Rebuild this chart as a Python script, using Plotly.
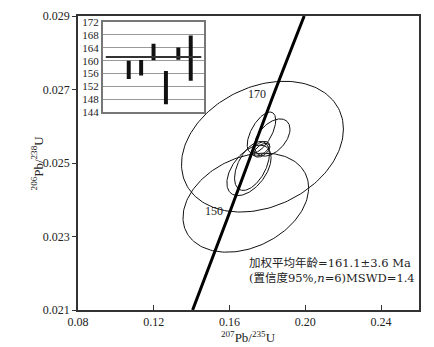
import numpy as np
import plotly.graph_objects as go

# Concordia curve points (207Pb/235U, 206Pb/238U)
concordia_x = [0.1405, 0.1592, 0.1707, 0.1822, 0.1994]
concordia_y = [0.0210, 0.02354, 0.02513, 0.02672, 0.0290]

# Age marks on the concordia (Ma)
age_labels = ["170", "150"]
age_label_x = [0.1747, 0.1516]
age_label_y = [0.02687, 0.02369]

# Error ellipses: centre, half-width in x, half-height in y, correlation
ell_cx = [0.17737, 0.16858, 0.17684, 0.18253, 0.17632, 0.17711, 0.17026, 0.17184]
ell_cy = [0.025445, 0.02392, 0.025827, 0.025693, 0.025387, 0.025347, 0.0248, 0.02492]
ell_sx = [0.04274, 0.03316, 0.00753, 0.00937, 0.00474, 0.0042, 0.01168, 0.00921]
ell_sy = [0.001779, 0.001347, 0.00056, 0.000507, 0.0002, 0.000187, 0.000688, 0.000667]
ell_rho = [0.27, 0.30, 0.60, 0.45, 0.50, 0.50, 0.50, 0.50]

# Inset: weighted-mean age bars (Ma)
bar_pos = [1, 2, 3, 4, 5, 6]
bar_lo = [154.3, 155.4, 160.1, 146.5, 160.3, 153.8]
bar_hi = [160.0, 160.2, 165.2, 156.8, 164.1, 167.8]
mean_age = 161.1

x_ticks = [0.08, 0.12, 0.16, 0.20, 0.24]
y_ticks = [0.021, 0.023, 0.025, 0.027, 0.029]
inset_ticks = [144, 148, 152, 156, 160, 164, 168, 172]

SERIF = "Liberation Serif, Times New Roman, Noto Sans CJK SC, serif"
WIDE = "DejaVu Serif, Noto Sans CJK SC, serif"

fig = go.Figure()

t = np.linspace(0, 2 * np.pi, 181)
for cx, cy, sx, sy, r in zip(ell_cx, ell_cy, ell_sx, ell_sy, ell_rho):
    ex = cx + sx * np.cos(t)
    ey = cy + sy * (r * np.cos(t) + np.sqrt(1 - r * r) * np.sin(t))
    fig.add_trace(go.Scatter(x=ex, y=ey, mode="lines",
                             line=dict(color="#111", width=1),
                             showlegend=False, hoverinfo="skip"))

fig.add_trace(go.Scatter(x=concordia_x, y=concordia_y, mode="lines",
                         line=dict(color="#000", width=3, shape="spline"),
                         showlegend=False, hoverinfo="skip"))

for txt, ax, ay in zip(age_labels, age_label_x, age_label_y):
    fig.add_annotation(x=ax, y=ay, text=txt, showarrow=False,
                       font=dict(family=SERIF, size=12, color="#222"))

# inset bars
fig.add_trace(go.Bar(x=bar_pos, y=[h - l for h, l in zip(bar_hi, bar_lo)],
                     base=bar_lo, width=0.32, marker_color="#111",
                     marker_line_width=0, showlegend=False,
                     xaxis="x2", yaxis="y2", hoverinfo="skip"))
fig.add_trace(go.Scatter(x=[-0.85, 6.85], y=[mean_age, mean_age], mode="lines",
                         line=dict(color="#333", width=2), showlegend=False,
                         xaxis="x2", yaxis="y2", hoverinfo="skip"))

fig.add_annotation(xref="paper", yref="paper", x=0.495, y=0.135,
                   xanchor="left", yanchor="middle", align="left",
                   text="加权平均年龄=161.1±3.6 Ma<br>(置信度95%,<i>n</i>=6)MSWD=1.4",
                   showarrow=False, font=dict(family=WIDE, size=11.5, color="#222"))

fig.add_annotation(xref="paper", yref="paper", x=0.5, y=-0.093,
                   text="<sup>207</sup>Pb/<sup>235</sup>U", showarrow=False,
                   xanchor="center", yanchor="middle",
                   font=dict(family=SERIF, size=13, color="#222"))
fig.add_annotation(xref="paper", yref="paper", x=-0.119, y=0.5,
                   text="<sup>206</sup>Pb/<sup>238</sup>U", showarrow=False,
                   xanchor="center", yanchor="middle", textangle=-90,
                   font=dict(family=SERIF, size=13, color="#222"))

# page body keeps an 8px margin, so the figure is shifted by that amount
fig.update_layout(
    width=426, height=339,
    margin=dict(l=70, r=15, t=2, b=37),
    plot_bgcolor="white", paper_bgcolor="white",
    font=dict(family=SERIF, size=12, color="#222"),
    xaxis=dict(range=[0.08, 0.26], tickvals=x_ticks,
               ticktext=["0.08", "0.12", "0.16", "0.20", "0.24"],
               ticks="inside", ticklen=5, tickcolor="#333",
               showgrid=False, zeroline=False, showline=True, mirror=True,
               linecolor="#333", linewidth=1.5),
    yaxis=dict(range=[0.021, 0.029], tickvals=y_ticks,
               ticktext=["0.021", "0.023", "0.025", "0.027", "0.029"],
               ticks="outside", ticklen=4, tickcolor="#333",
               showgrid=False, zeroline=False, showline=True, mirror=True,
               linecolor="#333", linewidth=1.5),
    xaxis2=dict(domain=[0.0724, 0.3695], anchor="y2", range=[-1.1, 7.07],
                showticklabels=False, ticks="", showgrid=False, zeroline=False,
                showline=True, mirror=True, linecolor="#777", linewidth=1.5),
    yaxis2=dict(domain=[0.6723, 0.98], anchor="x2", range=[144, 172],
                tickvals=inset_ticks, ticks="", showgrid=True,
                gridcolor="#999", gridwidth=1, zeroline=False,
                showline=True, mirror=True, linecolor="#777", linewidth=1.5,
                tickfont=dict(family=SERIF, size=11, color="#222")),
)

fig.write_html("out.html")
